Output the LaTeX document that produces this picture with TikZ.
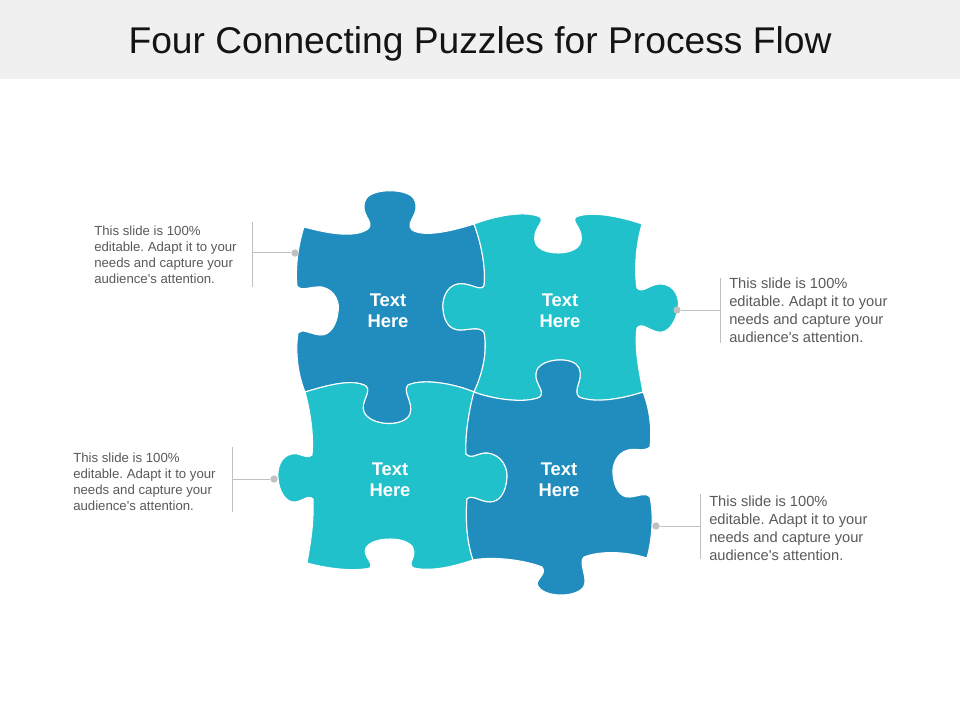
\documentclass[tikz,border=0pt]{standalone}
\usepackage{fontspec}
\setmainfont{Liberation Sans}
\usetikzlibrary{positioning}
\frenchspacing
\definecolor{pzdark}{HTML}{218DBE}
\definecolor{pzlight}{HTML}{21C1CC}
\definecolor{barbg}{HTML}{F0F0F0}
\definecolor{notegray}{HTML}{595959}
\definecolor{leadgray}{HTML}{C0C0C0}
\tikzset{
    piece/.style={draw=white, line width=0.8pt, line join=round},
    darkpiece/.style={piece, fill=pzdark},
    lightpiece/.style={piece, fill=pzlight},
    pzlabel/.style={text=white, font=\fontsize{13.8}{15.5}\selectfont\bfseries, align=center, inner sep=0pt},
    notesmall/.style={text=notegray, font=\fontsize{9.9}{12}\selectfont, align=left, anchor=west, inner sep=0pt},
    notelarge/.style={notesmall, font=\fontsize{11}{13.6}\selectfont},
    leader/.style={draw=leadgray, line width=0.75pt},
    dot/.style={circle, fill=leadgray, inner sep=0pt, minimum size=5.5pt}
}
\begin{document}
\begin{tikzpicture}[x=0.75pt,y=-0.75pt]
    \useasboundingbox (0,0) rectangle (960,720);
    \fill[barbg] (0,0) rectangle (960,79);
    \node[font=\fontsize{27.9}{34}\selectfont, anchor=base, text=black!92] (title) at (480,54) {Four Connecting Puzzles for Process Flow};

    \path[darkpiece] (304,227)
        .. controls (330,234) and (355,238) .. (368,229)
        .. controls (376,222) and (358,214) .. (366,199)
        .. controls (372,188) and (408,188) .. (414,199)
        .. controls (422,214) and (404,222) .. (412,230)
        .. controls (425,238) and (455,230) .. (474,224)
        .. controls (482,245) and (486,270) .. (484,286)
        .. controls (480,292) and (470,282) .. (458,284)
        .. controls (446,286) and (442,300) .. (443,309)
        .. controls (444,322) and (450,330) .. (460,330)
        .. controls (470,330) and (478,326) .. (484,332)
        .. controls (488,352) and (482,375) .. (474,392)
        .. controls (455,384) and (424,378) .. (408,385)
        .. controls (402,392) and (414,402) .. (410,414)
        .. controls (404,428) and (370,426) .. (364,412)
        .. controls (360,402) and (372,392) .. (366,386)
        .. controls (352,378) and (325,386) .. (305,392)
        .. controls (298,375) and (295,352) .. (298,333)
        .. controls (302,328) and (310,334) .. (320,335)
        .. controls (330,336) and (337,324) .. (338,312)
        .. controls (340,304) and (336,290) .. (322,287)
        .. controls (310,286) and (302,292) .. (297,286)
        .. controls (295,270) and (298,245) .. (304,227) -- cycle;
    \path[lightpiece] (474,224)
        .. controls (495,216) and (525,210) .. (540,217)
        .. controls (546,222) and (530,230) .. (536,244)
        .. controls (542,256) and (574,256) .. (580,244)
        .. controls (586,230) and (570,222) .. (576,217)
        .. controls (592,210) and (625,218) .. (642,224)
        .. controls (636,245) and (634,270) .. (637,288)
        .. controls (642,294) and (650,284) .. (660,284)
        .. controls (676,284) and (680,300) .. (678,308)
        .. controls (676,322) and (668,334) .. (658,332)
        .. controls (648,330) and (642,322) .. (637,328)
        .. controls (634,350) and (640,375) .. (643,392)
        .. controls (625,398) and (596,404) .. (579,397)
        .. controls (572,390) and (584,380) .. (579,368)
        .. controls (574,356) and (542,358) .. (537,370)
        .. controls (532,382) and (546,390) .. (540,397)
        .. controls (525,404) and (492,399) .. (474,392)
        .. controls (482,375) and (488,352) .. (484,332)
        .. controls (478,326) and (470,330) .. (460,330)
        .. controls (450,330) and (444,322) .. (443,309)
        .. controls (442,300) and (446,286) .. (458,284)
        .. controls (470,282) and (480,292) .. (484,286)
        .. controls (486,270) and (482,245) .. (474,224) -- cycle;
    \path[lightpiece] (305,392)
        .. controls (325,386) and (352,378) .. (366,386)
        .. controls (372,392) and (360,402) .. (364,412)
        .. controls (370,426) and (404,428) .. (410,414)
        .. controls (414,402) and (402,392) .. (408,385)
        .. controls (424,378) and (455,384) .. (474,392)
        .. controls (469,410) and (465,435) .. (466,454)
        .. controls (472,460) and (478,452) .. (488,453)
        .. controls (502,455) and (508,468) .. (507,478)
        .. controls (506,492) and (500,502) .. (490,502)
        .. controls (480,502) and (472,494) .. (467,499)
        .. controls (465,525) and (468,545) .. (473,560)
        .. controls (455,566) and (432,572) .. (414,568)
        .. controls (406,564) and (417,558) .. (413,548)
        .. controls (408,536) and (372,536) .. (366,548)
        .. controls (362,556) and (374,562) .. (370,568)
        .. controls (352,572) and (325,568) .. (307,563)
        .. controls (310,545) and (314,525) .. (313,499)
        .. controls (308,494) and (302,502) .. (294,502)
        .. controls (286,502) and (279,492) .. (278,478)
        .. controls (277,470) and (280,456) .. (292,454)
        .. controls (300,452) and (306,460) .. (312,455)
        .. controls (314,435) and (310,410) .. (305,392) -- cycle;
    \path[darkpiece] (474,392)
        .. controls (492,399) and (525,404) .. (540,397)
        .. controls (546,390) and (532,382) .. (537,370)
        .. controls (542,358) and (574,356) .. (579,368)
        .. controls (584,380) and (572,390) .. (579,397)
        .. controls (596,404) and (625,398) .. (643,392)
        .. controls (650,410) and (652,430) .. (650,447)
        .. controls (644,452) and (636,448) .. (628,450)
        .. controls (616,453) and (612,466) .. (613,474)
        .. controls (614,488) and (620,498) .. (630,497)
        .. controls (640,496) and (646,492) .. (650,497)
        .. controls (654,515) and (652,540) .. (647,558)
        .. controls (628,552) and (602,550) .. (584,557)
        .. controls (578,562) and (588,578) .. (584,586)
        .. controls (578,598) and (544,598) .. (538,586)
        .. controls (534,580) and (548,574) .. (542,567)
        .. controls (525,560) and (492,556) .. (473,560)
        .. controls (468,545) and (465,525) .. (467,499)
        .. controls (472,494) and (480,502) .. (490,502)
        .. controls (500,502) and (506,492) .. (507,478)
        .. controls (508,468) and (502,455) .. (488,453)
        .. controls (478,452) and (472,460) .. (466,454)
        .. controls (465,435) and (469,410) .. (474,392) -- cycle;

    \node[pzlabel] (textA) at (388,311) {Text\\Here};
    \node[pzlabel] (textB) at (560,311) {Text\\Here};
    \node[pzlabel] (textC) at (390,480) {Text\\Here};
    \node[pzlabel] (textD) at (559,480) {Text\\Here};

    \coordinate (barAtop) at (252,222);
    \coordinate (barAbot) at (252,287);
    \coordinate (barA) at (252,253);
    \coordinate (barBtop) at (720,278);
    \coordinate (barBbot) at (720,343);
    \coordinate (barB) at (720,310);
    \coordinate (barCtop) at (232,447);
    \coordinate (barCbot) at (232,512);
    \coordinate (barC) at (232,479);
    \coordinate (barDtop) at (700,494);
    \coordinate (barDbot) at (700,559);
    \coordinate (barD) at (700,526);

    \draw[leader] (barAtop) -- (barAbot);
    \draw[leader] (barBtop) -- (barBbot);
    \draw[leader] (barCtop) -- (barCbot);
    \draw[leader] (barDtop) -- (barDbot);

    \node[dot] (dotA) at (295,253) {};
    \node[dot] (dotB) at (677,310) {};
    \node[dot] (dotC) at (274,479) {};
    \node[dot] (dotD) at (656,526) {};

    \draw[leader] (dotA) -- (barA);
    \draw[leader] (dotB) -- (barB);
    \draw[leader] (dotC) -- (barC);
    \draw[leader] (dotD) -- (barD);

    \node[notesmall] (noteA) at (94,255) {This slide is 100\%\\editable. Adapt it to your\\needs and capture your\\audience\textquotesingle s attention.};
    \node[notelarge, right=6.75pt of barB] (noteB) {This slide is 100\%\\editable. Adapt it to your\\needs and capture your\\audience\textquotesingle s attention.};
    \node[notesmall] (noteC) at (73,482) {This slide is 100\%\\editable. Adapt it to your\\needs and capture your\\audience\textquotesingle s attention.};
    \node[notelarge, right=6.75pt of barD, yshift=-1.5pt] (noteD) {This slide is 100\%\\editable. Adapt it to your\\needs and capture your\\audience\textquotesingle s attention.};
\end{tikzpicture}
\end{document}
